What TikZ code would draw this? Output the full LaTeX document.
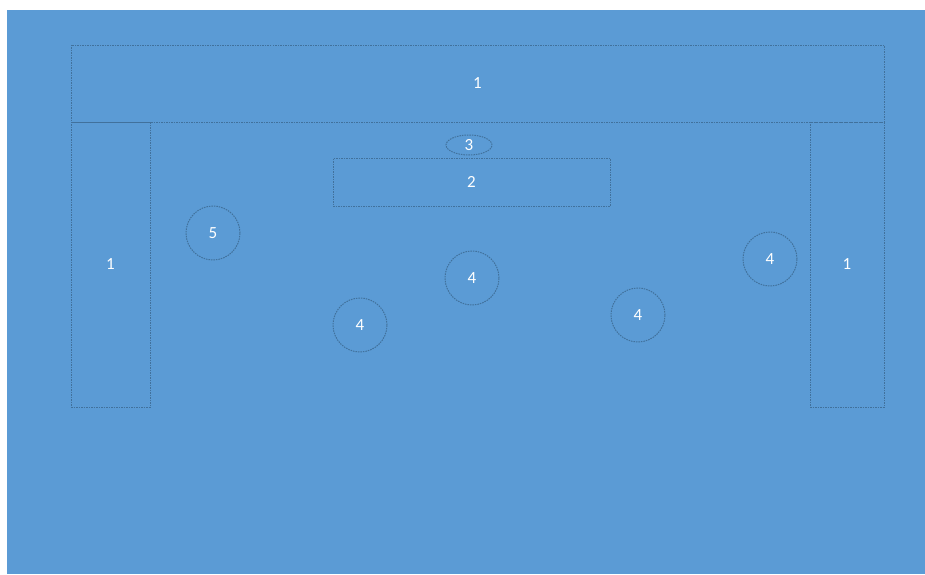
\documentclass[tikz,border=0pt]{standalone}
\usepackage{fontspec}
\setmainfont{Carlito}
\usepackage{tikz}
\usetikzlibrary{positioning,calc,shapes.geometric}
\definecolor{floor}{HTML}{5B9BD5}
\definecolor{edge}{HTML}{41719C}
\tikzset{part/.style={draw=edge,dashed,dash pattern=on 1.5pt off 1pt,line width=1pt,
  text=white,font=\fontsize{17}{19}\selectfont,inner sep=0pt},
  bench/.style={part,rectangle},
  seat/.style={part,circle,minimum size=54pt},
  lamp/.style={part,ellipse,minimum width=46pt,minimum height=20pt}}
\begin{document}
\begin{tikzpicture}[x=1pt,y=-1pt]
\useasboundingbox (0,0) rectangle (925,574);
\fill[white] (0,0) rectangle (925,574);
\fill[floor] (7,10) rectangle (925,574);
\node[bench,minimum width=813pt,minimum height=77pt] (top) at (477.5,83.5) {1};
\node[bench,minimum width=79pt,minimum height=285pt] (west) at (110.5,264.5) {1};
\node[bench,minimum width=74pt,minimum height=285pt] (east) at (847,264.5) {1};
\node[lamp] (lamp) at (469,145) {3};
\node[bench,minimum width=277pt,minimum height=48pt] (desk) at (471.5,182) {2};
\node[seat] (s5) at (213,233) {5};
\node[seat] (s4a) at (472,278) {4};
\node[seat] (s4b) at (360,325) {4};
\node[seat] (s4c) at (638,315) {4};
\node[seat] (s4d) at (770,259) {4};
\end{tikzpicture}
\end{document}
